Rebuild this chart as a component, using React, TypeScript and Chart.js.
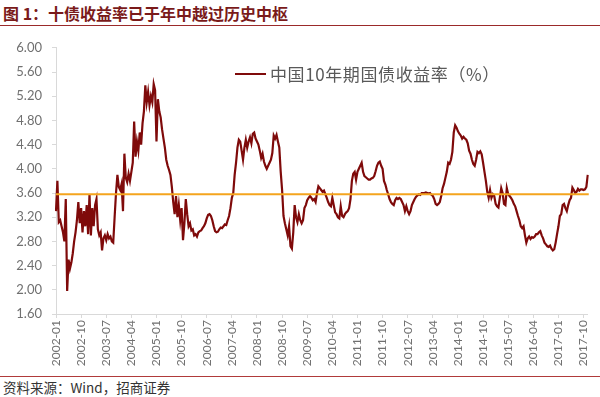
import React, { useEffect, useRef } from "react";
import { Chart, registerables } from "chart.js";

Chart.register(...registerables);

// Semi-monthly readings (two per month) of China 10Y government bond yield, %
const y2002 = [3.30,3.80,3.12,3.15,3.05,2.95,2.80,3.50,1.98,2.50,2.35,2.45,2.60,2.80,2.95,3.15,3.45,3.10,3.35,2.95,3.30,3.05,3.40,2.92];
const y2003 = [3.58,2.90,3.35,3.05,3.40,3.50,3.00,2.90,2.95,2.65,2.85,2.90,2.82,2.92,2.85,2.88,2.80,2.78,3.20,3.60,3.90,3.70,3.65,3.75];
const y2004 = [3.30,4.25,3.85,3.78,3.92,3.80,3.95,4.10,4.78,4.20,4.45,4.30,4.60,4.40,4.75,4.95,5.38,5.10,5.27,5.05,5.20,5.10,5.40,5.30];
const y2005 = [4.45,5.15,4.95,4.85,4.65,4.50,4.35,4.15,4.05,3.98,3.90,3.70,3.45,3.25,3.55,3.20,3.40,3.15,3.35,2.82,3.10,3.50,3.25,3.05];
const y2006 = [3.10,2.98,3.00,2.90,2.92,2.88,2.95,2.97,2.98,3.02,3.05,3.10,3.18,3.24,3.25,3.22,3.15,3.05,2.97,2.95,2.96,3.00,3.03,3.02];
const y2007 = [3.05,3.08,3.07,3.15,3.22,3.35,3.52,3.60,3.90,4.10,4.35,4.48,4.45,4.30,4.15,4.35,4.48,4.35,4.45,4.52,4.42,4.58,4.60,4.50];
const y2008 = [4.45,4.40,4.30,4.18,4.25,4.12,4.05,4.00,4.05,4.10,4.15,4.26,4.55,4.50,4.56,4.45,4.35,3.95,3.65,3.22,3.10,3.00,2.90,3.05];
const y2009 = [2.72,2.68,2.95,3.40,3.20,3.12,3.25,3.15,3.10,3.15,3.35,3.40,3.48,3.52,3.55,3.52,3.48,3.50,3.45,3.60,3.71,3.68,3.65,3.62];
const y2010 = [3.64,3.58,3.52,3.45,3.40,3.38,3.52,3.40,3.28,3.25,3.20,3.18,3.38,3.22,3.20,3.25,3.28,3.30,3.35,3.50,3.80,3.92,3.95,3.82];
const y2011 = [3.95,4.00,4.05,4.10,3.95,3.88,3.86,3.84,3.82,3.82,3.84,3.85,3.88,3.96,4.05,4.10,4.12,4.05,4.00,3.80,3.74,3.65,3.58,3.50];
const y2012 = [3.45,3.42,3.40,3.48,3.52,3.50,3.52,3.50,3.45,3.40,3.30,3.38,3.30,3.25,3.30,3.40,3.45,3.50,3.54,3.56,3.58,3.57,3.60,3.60];
const y2013 = [3.60,3.61,3.60,3.59,3.60,3.57,3.55,3.50,3.42,3.40,3.42,3.45,3.55,3.68,3.75,3.85,3.95,4.10,4.08,4.15,4.28,4.60,4.72,4.68];
const y2014 = [4.62,4.58,4.55,4.50,4.53,4.50,4.48,4.42,4.30,4.25,4.15,4.08,4.05,4.15,4.28,4.26,4.29,4.24,4.10,3.95,3.80,3.62,3.52,3.65];
const y2015 = [3.52,3.58,3.55,3.42,3.38,3.36,3.52,3.68,3.60,3.42,3.40,3.68,3.58,3.55,3.52,3.48,3.42,3.38,3.30,3.22,3.15,3.05,3.02,3.05];
const y2016 = [2.90,2.78,2.85,2.88,2.84,2.87,2.86,2.88,2.92,2.92,2.95,2.97,2.90,2.85,2.78,2.75,2.72,2.71,2.73,2.68,2.65,2.67,2.78,2.92];
const y2017 = [3.05,3.22,3.25,3.40,3.42,3.35,3.30,3.40,3.48,3.52,3.69,3.65,3.60,3.62,3.67,3.64,3.66,3.66,3.65,3.66,3.70,3.90];

const yieldValues = [
  ...y2002, ...y2003, ...y2004, ...y2005, ...y2006, ...y2007, ...y2008, ...y2009,
  ...y2010, ...y2011, ...y2012, ...y2013, ...y2014, ...y2015, ...y2016, ...y2017,
];

// Historical centre level (orange reference line)
const centreLevel = 3.58;

// Category labels: two observations per month, 2002-01 .. 2017-11
const categories: string[] = [];
for (let y = 2002; y <= 2017; y++) {
  for (let m = 1; m <= 12; m++) {
    if (y === 2017 && m > 11) break;
    const lab = `${y}-${m < 10 ? "0" + m : m}`;
    categories.push(lab, lab);
  }
}

const tickLabels = [
  "2002-01","2002-10","2003-07","2004-04","2005-01","2005-10","2006-07","2007-04",
  "2008-01","2008-10","2009-07","2010-04","2011-01","2011-10","2012-07","2013-04",
  "2014-01","2014-10","2015-07","2016-04","2017-01","2017-10",
];
const tickEvery = 18; // 9 months * 2 points

const yTicks = { min: 1.6, max: 6.0, step: 0.4 };

const seriesName = "中国10年期国债收益率（%）";
const titleText = "图 1：十债收益率已于年中越过历史中枢";
const sourceText = "资料来源：Wind，招商证券";

const LINE_COLOR = "#7F0A0A";
const CENTRE_COLOR = "#F4A41E";
const AXIS_TEXT = "#707070";
const AXIS_LINE = "#d9d9d9";
const FONT = "Lato, 'Noto Sans', sans-serif";

const centrePlugin = {
  id: "centreLine",
  afterDatasetsDraw(chart: any) {
    const { ctx, chartArea, scales } = chart;
    const y = scales.y.getPixelForValue(centreLevel);
    ctx.save();
    ctx.strokeStyle = CENTRE_COLOR;
    ctx.lineWidth = 2;
    ctx.beginPath();
    ctx.moveTo(chartArea.left, y);
    ctx.lineTo(chartArea.right + 1, y);
    ctx.stroke();
    ctx.restore();
  },
};

export default function App() {
  const ref = useRef<HTMLCanvasElement>(null);

  useEffect(() => {
    const chart = new Chart(ref.current!, {
      type: "line",
      data: {
        labels: categories,
        datasets: [
          {
            label: seriesName,
            data: yieldValues,
            borderColor: LINE_COLOR,
            borderWidth: 2.2,
            pointRadius: 0,
            tension: 0,
            fill: false,
          },
        ],
      },
      options: {
        responsive: false,
        animation: false,
        layout: { padding: { top: 16, right: 4, left: 0, bottom: 0 } },
        plugins: { legend: { display: false }, tooltip: { enabled: false } },
        scales: {
          x: {
            type: "category",
            offset: false,
            afterFit: (s: any) => { s.height = 61; },
            grid: { drawOnChartArea: false, drawTicks: true, tickLength: 4, color: AXIS_LINE },
            border: { color: AXIS_LINE },
            ticks: {
              autoSkip: false,
              maxRotation: 90,
              minRotation: 90,
              padding: 2,
              color: AXIS_TEXT,
              font: { family: FONT, size: 12 },
              callback: (_v: any, i: number) => (i % tickEvery === 0 ? tickLabels[i / tickEvery] : null),
            },
          },
          y: {
            min: yTicks.min,
            max: yTicks.max,
            afterFit: (s: any) => { s.width = 56; },
            grid: { drawOnChartArea: false, drawTicks: true, tickLength: 4, color: AXIS_LINE },
            border: { color: AXIS_LINE },
            ticks: {
              stepSize: yTicks.step,
              padding: 10,
              color: AXIS_TEXT,
              font: { family: FONT, size: 13 },
              callback: (v: any) => Number(v).toFixed(2),
            },
          },
        },
      },
      plugins: [centrePlugin],
    } as any);
    return () => chart.destroy();
  }, []);

  return (
    <div style={{ position: "fixed", left: 0, top: 0, width: 600, height: 397, background: "#fff", overflow: "hidden" }}>
      <div style={{ position: "absolute", left: 3, top: 3, fontFamily: "'Noto Sans CJK SC', sans-serif", fontWeight: 700, fontSize: 16, lineHeight: "20px", color: "#7a1a1a", whiteSpace: "nowrap" }}>
        {titleText}
      </div>
      <div style={{ position: "absolute", left: 0, top: 25, width: 600, height: 1, background: "#9b2a2a" }} />
      <div style={{ position: "absolute", left: 0, top: 30 }}>
        <canvas ref={ref} width={600} height={345} style={{ display: "block", width: 600, height: 345 }} />
      </div>
      <div style={{ position: "absolute", left: 235, top: 73, width: 31, height: 2, background: LINE_COLOR }} />
      <div style={{ position: "absolute", left: 270, top: 62, fontFamily: "'Noto Sans CJK SC', sans-serif", fontSize: 17, letterSpacing: "0.6px", lineHeight: "24px", color: "#595959", whiteSpace: "nowrap" }}>
        {seriesName}
      </div>
      <div style={{ position: "absolute", left: 0, top: 376, width: 600, height: 1, background: "#b03a3a" }} />
      <div style={{ position: "absolute", left: 3, top: 378, fontFamily: "'Noto Sans CJK SC', sans-serif", fontSize: 13.5, lineHeight: "18px", color: "#333", whiteSpace: "nowrap" }}>
        {sourceText}
      </div>
    </div>
  );
}
